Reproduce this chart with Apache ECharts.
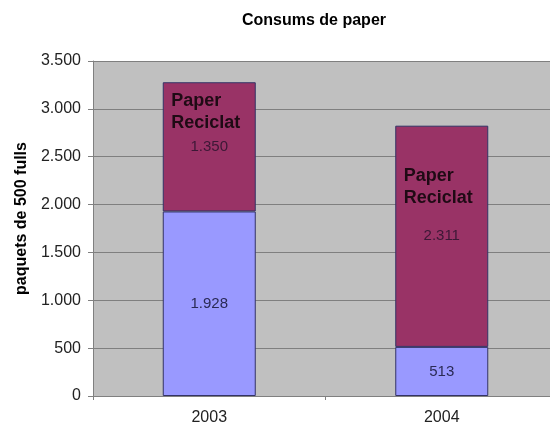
<!DOCTYPE html>
<html><head><meta charset="utf-8">
<script src="https://cdn.jsdelivr.net/npm/echarts@6/dist/echarts.min.js"></script>
<style>html,body{margin:0;padding:0;background:#fff}#c{width:550px;height:428px}</style>
</head><body><div id="c"></div>
<script>
var categories = ['2003', '2004'];
var normalPaper = [1928, 513];
var recycledPaper = [1350, 2311];
var noteText = 'Paper\nReciclat';
var noteValues = [2968, 2184];
var yTicks = [0, 500, 1000, 1500, 2000, 2500, 3000, 3500];

function fmt(v) { return String(v).replace(/\B(?=(\d{3})+(?!\d))/g, '.'); }

var chart = echarts.init(document.getElementById('c'));
chart.setOption({
  animation: false,
  textStyle: { fontFamily: 'Liberation Sans, Arial, sans-serif' },
  title: {
    text: 'Consums de paper', left: 309, top: 8, textAlign: 'center',
    textStyle: { fontSize: 16, fontWeight: 'bold', color: '#000', fontFamily: 'Liberation Sans, Arial, sans-serif' }
  },
  grid: { left: 93, top: 61, width: 465, height: 335, show: true, backgroundColor: '#c0c0c0', borderWidth: 0, containLabel: false, outerBoundsMode: 'none' },
  xAxis: {
    type: 'category', data: categories,
    axisLine: { lineStyle: { color: '#808080', width: 1 } },
    axisTick: { show: true, length: 4, lineStyle: { color: '#808080' } },
    axisLabel: { fontSize: 16, color: '#222', margin: 14 }
  },
  yAxis: {
    type: 'value', min: yTicks[0], max: yTicks[yTicks.length - 1], interval: 500,
    name: 'paquets de 500 fulls', nameLocation: 'middle', nameGap: 62, nameRotate: 90,
    nameTextStyle: { fontSize: 16, fontWeight: 'bold', color: '#000', padding: [0, 0, 0, 20] },
    axisLine: { show: true, lineStyle: { color: '#808080' } },
    axisTick: { show: true, length: 5, inside: false, lineStyle: { color: '#808080' } },
    axisLabel: { fontSize: 16, color: '#222', margin: 12, formatter: function (v) { return fmt(v); } },
    splitLine: { lineStyle: { color: '#7f7f7f', width: 1 } }
  },
  series: [
    {
      type: 'bar', stack: 'a', data: normalPaper, barWidth: '40%',
      itemStyle: { color: '#9999ff', borderColor: '#333366', borderWidth: 1 },
      label: { show: true, position: 'inside', fontSize: 15, color: '#2a2a55', formatter: function (p) { return fmt(p.value); } }
    },
    {
      type: 'bar', stack: 'a', data: recycledPaper, barWidth: '40%',
      itemStyle: { color: '#993366', borderColor: '#333366', borderWidth: 1 },
      label: { show: true, position: 'inside', fontSize: 15, color: '#3c1836', formatter: function (p) { return fmt(p.value); } }
    },
    {
      type: 'scatter', symbolSize: 2, itemStyle: { color: 'rgba(0,0,0,0)' },
      data: noteValues.map(function (v, i) { return [categories[i], v]; }),
      label: {
        show: true, position: 'inside', align: 'left', offset: [-38, 0],
        formatter: noteText, fontSize: 18, fontWeight: 'bold', color: '#000', lineHeight: 22
      },
      z: 10
    }
  ]
});
</script></body></html>
